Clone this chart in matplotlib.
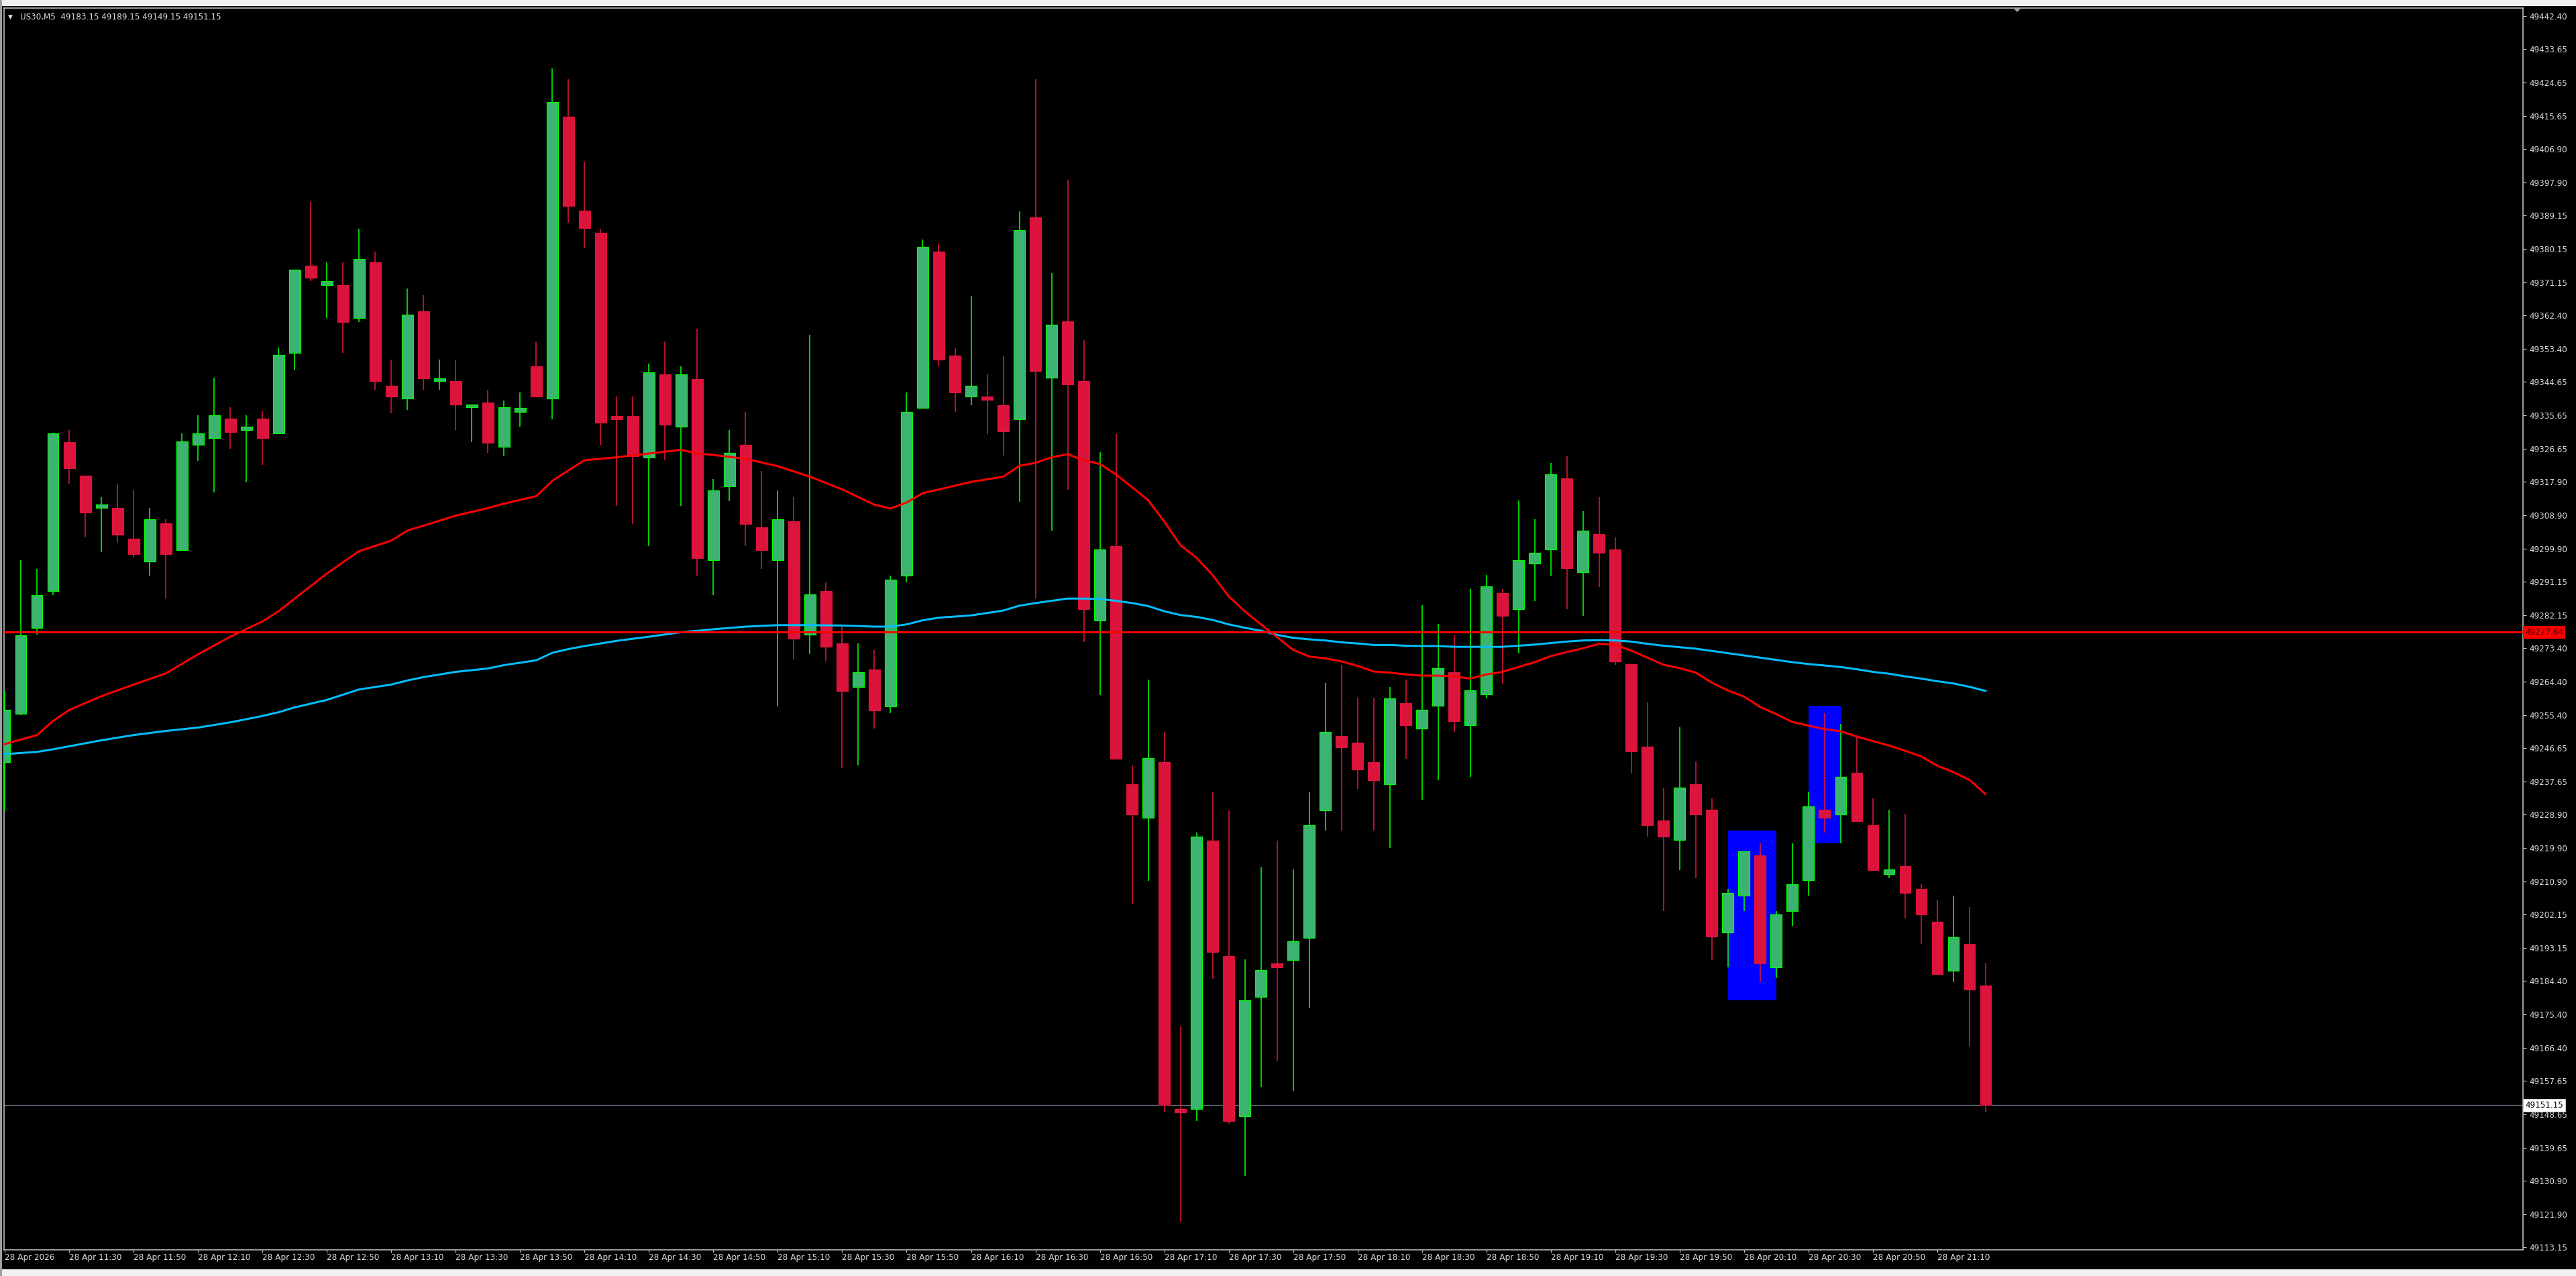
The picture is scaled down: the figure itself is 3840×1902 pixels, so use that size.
import numpy as np
import matplotlib.pyplot as plt
from matplotlib.patches import Rectangle, Polygon
from matplotlib.transforms import blended_transform_factory

# US30 M5 candles, 28 Apr 2026 11:10 .. 21:25
opens = [49242.9, 49255.8, 49278.7, 49288.7, 49328.4, 49319.5, 49310.8, 49310.8, 49302.7, 49296.6,
         49306.8, 49299.6, 49327.7, 49329.6, 49334.7, 49331.6, 49334.7, 49330.7, 49352.4, 49375.6,
         49370.5, 49370.5, 49361.6, 49376.6, 49343.6, 49340.1, 49363.5, 49344.7, 49344.7, 49337.7,
         49339.0, 49327.2, 49336.6, 49348.7, 49340.1, 49415.5, 49390.3, 49384.4, 49335.5, 49335.5,
         49324.3, 49346.5, 49332.5, 49345.4, 49296.8, 49316.6, 49327.7, 49305.7, 49296.8, 49307.3,
         49276.9, 49288.7, 49274.7, 49262.9, 49267.7, 49257.7, 49292.7, 49337.6, 49379.5, 49351.6,
         49340.6, 49340.6, 49338.4, 49334.6, 49388.6, 49345.6, 49360.8, 49344.7, 49280.8, 49300.7,
         49237.0, 49228.0, 49242.9, 49150.1, 49150.1, 49221.9, 49191.0, 49148.2, 49180.1, 49189.1,
         49190.0, 49195.9, 49229.9, 49249.9, 49248.1, 49242.9, 49236.9, 49258.7, 49251.9, 49257.9,
         49266.9, 49252.7, 49260.9, 49288.0, 49283.8, 49295.9, 49299.7, 49318.8, 49293.7, 49303.8,
         49299.8, 49269.0, 49247.0, 49227.2, 49222.0, 49237.0, 49230.1, 49197.2, 49207.1, 49218.0,
         49188.0, 49203.1, 49211.2, 49230.1, 49228.9, 49240.0, 49226.0, 49212.9, 49215.0, 49209.0,
         49200.1, 49187.1, 49194.2, 49183.15]
highs = [49261.8, 49296.9, 49294.6, 49331.0, 49331.6, 49319.5, 49313.8, 49317.3, 49315.7, 49310.8,
         49307.8, 49330.8, 49335.7, 49345.7, 49337.8, 49335.7, 49336.7, 49353.7, 49374.6, 49392.7,
         49376.6, 49376.6, 49385.6, 49379.4, 49350.6, 49369.6, 49367.7, 49350.6, 49350.6, 49338.5,
         49342.5, 49339.6, 49341.7, 49355.2, 49428.4, 49425.5, 49403.4, 49385.5, 49340.6, 49340.6,
         49349.4, 49355.4, 49348.7, 49358.8, 49318.5, 49331.6, 49336.6, 49320.8, 49315.6, 49313.8,
         49357.1, 49290.9, 49279.6, 49274.7, 49272.8, 49292.7, 49341.7, 49382.6, 49381.5, 49353.5,
         49367.5, 49346.5, 49351.6, 49390.1, 49425.5, 49373.7, 49398.6, 49355.8, 49325.8, 49330.6,
         49241.9, 49265.0, 49251.0, 49172.2, 49224.1, 49234.8, 49230.0, 49190.1, 49214.9, 49221.9,
         49214.1, 49234.8, 49264.0, 49268.9, 49260.0, 49260.0, 49263.0, 49265.0, 49284.9, 49279.9,
         49276.9, 49289.1, 49292.9, 49289.1, 49312.9, 49307.8, 49322.9, 49324.7, 49310.0, 49313.7,
         49303.0, 49269.0, 49258.9, 49236.0, 49252.2, 49243.0, 49233.1, 49209.0, 49219.0, 49221.1,
         49203.1, 49221.1, 49235.0, 49256.0, 49253.0, 49250.0, 49233.1, 49230.1, 49229.0, 49210.2,
         49206.1, 49207.1, 49204.1, 49189.15]
lows = [49229.8, 49255.5, 49277.0, 49287.6, 49317.3, 49303.1, 49299.1, 49301.6, 49297.6, 49292.7,
        49286.6, 49299.6, 49323.5, 49315.0, 49326.6, 49317.7, 49322.4, 49330.7, 49347.6, 49371.6,
        49361.6, 49352.4, 49360.5, 49342.5, 49336.1, 49337.0, 49342.5, 49342.5, 49331.6, 49328.5,
        49325.5, 49324.6, 49332.5, 49340.6, 49334.6, 49387.2, 49380.4, 49327.7, 49311.4, 49306.6,
        49300.6, 49323.6, 49311.4, 49292.7, 49287.5, 49312.6, 49300.6, 49294.5, 49257.7, 49270.4,
        49271.7, 49269.7, 49241.3, 49241.9, 49251.9, 49255.9, 49290.9, 49337.6, 49348.7, 49336.6,
        49338.4, 49330.6, 49324.8, 49312.5, 49286.6, 49304.8, 49315.8, 49274.9, 49260.8, 49243.8,
        49204.8, 49211.1, 49149.2, 49120.0, 49146.9, 49184.9, 49146.1, 49132.2, 49156.1, 49163.1,
        49155.0, 49177.0, 49224.6, 49224.6, 49235.7, 49224.6, 49219.9, 49243.8, 49232.8, 49238.0,
        49250.9, 49238.9, 49259.9, 49263.9, 49271.9, 49285.9, 49292.6, 49283.8, 49281.9, 49289.7,
        49268.9, 49239.9, 49222.9, 49203.1, 49214.0, 49211.9, 49190.0, 49188.0, 49203.1, 49184.0,
        49185.1, 49199.1, 49207.1, 49224.0, 49221.1, 49227.0, 49214.0, 49211.9, 49201.0, 49194.2,
        49186.1, 49184.0, 49167.0, 49149.15]
closes = [49256.8, 49276.8, 49287.6, 49330.8, 49321.5, 49309.7, 49311.8, 49303.7, 49298.5, 49307.8,
          49298.5, 49328.6, 49330.8, 49335.7, 49331.2, 49332.5, 49329.6, 49351.7, 49374.6, 49372.4,
          49371.6, 49360.5, 49377.5, 49344.7, 49340.6, 49362.5, 49345.5, 49345.5, 49338.5, 49338.5,
          49328.2, 49337.7, 49337.6, 49340.6, 49419.4, 49391.6, 49385.7, 49333.6, 49334.6, 49324.6,
          49347.1, 49333.1, 49346.5, 49297.4, 49315.6, 49325.5, 49306.6, 49299.6, 49307.8, 49275.8,
          49287.7, 49273.7, 49261.8, 49266.9, 49256.7, 49291.6, 49336.6, 49380.6, 49350.6, 49341.7,
          49343.6, 49339.7, 49331.4, 49385.1, 49347.4, 49359.8, 49343.8, 49283.7, 49299.7, 49243.8,
          49228.9, 49244.0, 49151.2, 49149.2, 49223.0, 49192.0, 49146.9, 49179.1, 49187.2, 49188.0,
          49195.0, 49226.0, 49251.0, 49246.8, 49240.9, 49238.0, 49259.9, 49252.7, 49256.9, 49267.9,
          49253.8, 49262.0, 49289.8, 49281.9, 49296.8, 49298.9, 49319.9, 49294.7, 49304.8, 49298.8,
          49269.8, 49245.8, 49226.0, 49222.9, 49236.0, 49228.9, 49196.2, 49207.9, 49219.0, 49189.0,
          49202.1, 49210.2, 49231.1, 49228.0, 49239.0, 49227.0, 49214.0, 49214.2, 49207.9, 49202.1,
          49186.1, 49196.1, 49182.1, 49151.15]

# moving averages (bar index -> value)
ma_bars = [0, 2, 3, 4, 6, 8, 10, 12, 14, 16, 17, 18, 20, 22, 24, 25, 26, 28, 30, 31, 33, 34, 35, 36, 38,
           40, 42, 43, 44, 46, 48, 50, 52, 54, 55, 56, 57, 58, 60, 62] + list(range(63, 124))
ma_red = [49247.7, 49250.1, 49253.9, 49256.8, 49260.5, 49263.6, 49266.6, 49271.7, 49276.4, 49280.5,
          49283.2, 49286.6, 49293.3, 49299.3, 49302.1, 49304.8, 49306.1, 49308.8, 49310.8, 49312.0,
          49314.0, 49318.1, 49320.9, 49323.6, 49324.4, 49325.4, 49326.4, 49325.4, 49325.0, 49324.0,
          49322.0, 49319.2, 49315.8, 49311.7, 49310.7, 49312.3, 49314.8, 49315.8, 49317.8, 49319.2,
          49322.1, 49322.9, 49324.4, 49325.2, 49323.6, 49322.6, 49319.8, 49316.4, 49312.9, 49307.2,
          49300.9, 49297.5, 49292.9, 49287.2, 49283.2, 49279.7, 49276.3, 49272.9, 49271.1, 49270.6,
          49269.8, 49268.6, 49267.1, 49266.8, 49266.3, 49266.0, 49266.0, 49265.8, 49265.2, 49266.3,
          49267.0, 49268.3, 49269.6, 49271.2, 49272.3, 49273.3, 49274.5, 49274.2, 49272.7, 49270.8,
          49268.9, 49268.0, 49266.8, 49264.1, 49262.0, 49260.4, 49257.6, 49255.7, 49253.6, 49252.6,
          49251.7, 49251.1, 49249.7, 49248.5, 49247.3, 49245.9, 49244.4, 49241.9, 49240.2, 49238.1,
          49234.3]
ma_blue = [49245.0, 49245.6, 49246.3, 49247.1, 49248.7, 49250.1, 49251.2, 49252.1, 49253.5, 49255.2,
           49256.2, 49257.5, 49259.5, 49262.3, 49263.6, 49264.7, 49265.6, 49267.0, 49267.9, 49268.8,
           49270.1, 49272.1, 49273.1, 49273.9, 49275.3, 49276.4, 49277.6, 49278.0, 49278.4, 49279.1,
           49279.5, 49279.5, 49279.4, 49279.1, 49279.1, 49279.7, 49280.8, 49281.5, 49282.1, 49283.4,
           49284.7, 49285.4, 49286.0, 49286.6, 49286.6, 49286.5, 49286.0, 49285.4, 49284.6, 49283.2,
           49282.2, 49281.7, 49280.9, 49279.7, 49278.8, 49278.0, 49276.9, 49276.1, 49275.7, 49275.4,
           49274.9, 49274.6, 49274.2, 49274.2, 49274.0, 49273.9, 49273.9, 49273.7, 49273.7, 49273.7,
           49273.7, 49274.0, 49274.3, 49274.7, 49275.1, 49275.4, 49275.5, 49275.4, 49275.1, 49274.5,
           49274.0, 49273.6, 49273.2, 49272.6, 49272.0, 49271.4, 49270.8, 49270.2, 49269.6, 49269.1,
           49268.7, 49268.3, 49267.7, 49267.0, 49266.5, 49265.8, 49265.2, 49264.5, 49263.9, 49263.0,
           49261.9]

# blue rectangles drawn on the chart (bar start, bar end, low, high)
rect_start = [107, 112]
rect_end = [110, 114]
rect_low = [49179.2, 49221.2]
rect_high = [49224.5, 49258.0]

level_line = 49277.64
last_price = 49151.15
header = "US30,M5  49183.15 49189.15 49149.15 49151.15"

ytick_vals = [49442.40, 49433.65, 49424.65, 49415.65, 49406.90, 49397.90, 49389.15, 49380.15,
              49371.15, 49362.40, 49353.40, 49344.65, 49335.65, 49326.65, 49317.90, 49308.90,
              49299.90, 49291.15, 49282.15, 49273.40, 49264.40, 49255.40, 49246.65, 49237.65,
              49228.90, 49219.90, 49210.90, 49202.15, 49193.15, 49184.40, 49175.40, 49166.40,
              49157.65, 49148.65, 49139.65, 49130.90, 49121.90, 49113.15]
ytick_labels = ["%.2f" % v for v in ytick_vals]

xtick_bars = list(range(0, 121, 4))
xtick_labels = ["28 Apr 2026", "28 Apr 11:30", "28 Apr 11:50", "28 Apr 12:10", "28 Apr 12:30",
                "28 Apr 12:50", "28 Apr 13:10", "28 Apr 13:30", "28 Apr 13:50", "28 Apr 14:10",
                "28 Apr 14:30", "28 Apr 14:50", "28 Apr 15:10", "28 Apr 15:30", "28 Apr 15:50",
                "28 Apr 16:10", "28 Apr 16:30", "28 Apr 16:50", "28 Apr 17:10", "28 Apr 17:30",
                "28 Apr 17:50", "28 Apr 18:10", "28 Apr 18:30", "28 Apr 18:50", "28 Apr 19:10",
                "28 Apr 19:30", "28 Apr 19:50", "28 Apr 20:10", "28 Apr 20:30", "28 Apr 20:50",
                "28 Apr 21:10"]

W, H, dpi = 3840, 1902, 100
px = 72 / dpi   # one pixel in points
fs = 12 * px
txt_col = '#dcdcdc'
frame_col = '#c0c0c0'


def gera_grafico():
    fig = plt.figure(figsize=(W / dpi, H / dpi), dpi=dpi, facecolor='black')
    ax = fig.add_axes([6 / W, 1 - 1863 / H, (3761 - 6) / W, (1863 - 12) / H])
    ax.set_facecolor('black')

    o = np.array(opens)
    h = np.array(highs)
    l = np.array(lows)
    c = np.array(closes)
    x = np.arange(len(o))
    up = c >= o
    lo = np.minimum(o, c)
    bh = np.maximum(np.abs(c - o), 0.45)

    for s, e, lo_r, hi_r in zip(rect_start, rect_end, rect_low, rect_high):
        ax.add_patch(Rectangle((s, lo_r), e - s, hi_r - lo_r, facecolor='#0000ff',
                               edgecolor='none', zorder=1))

    ax.axhline(last_price, color='#778899', lw=1.2 * px, zorder=2)

    ax.vlines(x[up], l[up], h[up], color='#00ff00', lw=1.6 * px, zorder=3)
    ax.vlines(x[~up], l[~up], h[~up], color='#dc143c', lw=1.6 * px, zorder=3)
    ax.bar(x[up], bh[up], bottom=lo[up], width=0.69, color='#3cb371',
           edgecolor='#00ff00', linewidth=1.2 * px, zorder=4)
    ax.bar(x[~up], bh[~up], bottom=lo[~up], width=0.69, color='#dc143c',
           edgecolor='#dc143c', linewidth=1.2 * px, zorder=4)

    ax.plot(ma_bars, ma_blue, color='#00bfff', lw=3 * px, zorder=5)
    ax.plot(ma_bars, ma_red, color='#ff0000', lw=3 * px, zorder=5)
    ax.axhline(level_line, color='#ff0000', lw=3 * px, zorder=5)

    ax.set_xlim(-0.05, 156.375)
    ax.set_ylim(49112.41, 49444.55)

    ax.yaxis.tick_right()
    ax.set_yticks(ytick_vals)
    ax.set_yticklabels(ytick_labels)
    ax.set_xticks(xtick_bars)
    ax.set_xticklabels(xtick_labels)
    for lbl in ax.get_xticklabels():
        lbl.set_horizontalalignment('left')
    ax.tick_params(axis='y', direction='out', length=5 * px, width=1.2 * px, color=frame_col,
                   labelcolor=txt_col, labelsize=fs, pad=4 * px)
    ax.tick_params(axis='x', direction='out', length=4 * px, width=1.2 * px, color=frame_col,
                   labelcolor=txt_col, labelsize=fs, pad=1 * px)
    for sp in ax.spines.values():
        sp.set_color(frame_col)
        sp.set_linewidth(1.6 * px)

    tr = blended_transform_factory(ax.transAxes, ax.transData)
    ax.text(1.0008, level_line, "%.2f" % level_line, transform=tr, va='center', ha='left',
            fontsize=fs, color='#400000', clip_on=False, zorder=10,
            bbox=dict(boxstyle='square,pad=0.25', fc='#ff0000', ec='none'))
    ax.text(1.0008, last_price, "%.2f" % last_price, transform=tr, va='center', ha='left',
            fontsize=fs, color='black', clip_on=False, zorder=10,
            bbox=dict(boxstyle='square,pad=0.25', fc='white', ec='#c0c0c0', lw=px))

    # header
    fig.text(12 / W, 1 - 25 / H, u"\u25bc", color=txt_col, fontsize=9 * px, va='center')
    fig.text(30 / W, 1 - 25 / H, header, color=txt_col, fontsize=fs, va='center')

    # window strips top and bottom
    fig.add_artist(Rectangle((0, 1 - 9 / H), 1, 9 / H, transform=fig.transFigure,
                             facecolor='#f0f0f0', edgecolor='none'))
    fig.add_artist(Rectangle((0, 0), 1, 10 / H, transform=fig.transFigure,
                             facecolor='#f0f0f0', edgecolor='none'))
    fig.add_artist(Rectangle((0, 0), 3 / W, 1, transform=fig.transFigure,
                             facecolor='#a0a0a0', edgecolor='none'))
    # chart shift marker
    fig.add_artist(Polygon([(3001 / W, 1 - 12 / H), (3013 / W, 1 - 12 / H), (3007 / W, 1 - 18 / H)],
                           closed=True, transform=fig.transFigure, facecolor='#a0a0a0',
                           edgecolor='none'))

    fig.savefig('out.png', dpi=dpi, facecolor='black')


if __name__ == '__main__':
    gera_grafico()
